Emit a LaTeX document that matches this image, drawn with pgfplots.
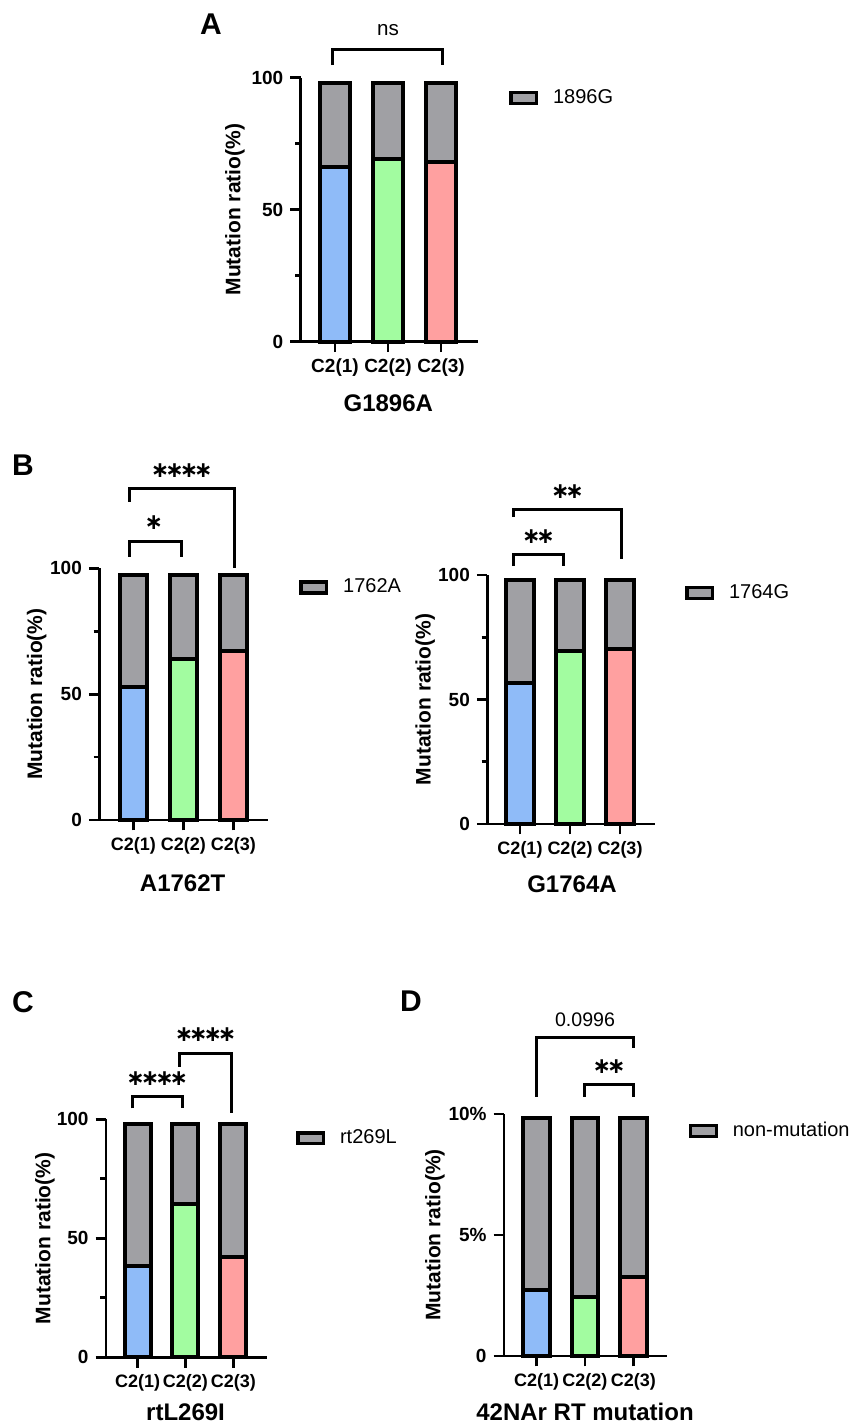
\documentclass[border=0pt]{standalone}
\usepackage{pgfplots}
\pgfplotsset{compat=1.18}
\usepackage{fontspec}
\setmainfont{Liberation Sans}
\newfontfamily\dejavu{DejaVu Sans}
\definecolor{cblue}{RGB}{143,187,248}
\definecolor{cgreen}{RGB}{162,252,160}
\definecolor{cred}{RGB}{255,160,160}
\definecolor{cgray}{RGB}{160,160,164}
\newcommand{\st}{\makebox[7.2pt]{\dejavu\bfseries\fontsize{11}{12}\selectfont ∗}}
\pgfplotsset{
  panel/.style={
    scale only axis, anchor=south west,
    axis lines=left, axis line style={-, line width=1.35pt},
    every tick/.style={black, line width=1.35pt},
    tick align=outside, major tick length=5.2pt, minor tick length=2.8pt,
    xtick={0,1,2}, xticklabels={C2(1),C2(2),C2(3)},
    ybar stacked, ymin=0, clip=false,
    every axis plot/.append style={draw=black, line width=2pt},
    xticklabel style={font=\bfseries\fontsize{9}{10}\selectfont},
    yticklabel style={font=\bfseries\fontsize{9.5}{10}\selectfont},
    ylabel={Mutation ratio(\%)},
    ylabel style={font=\bfseries\fontsize{10.5}{12}\selectfont, anchor=center},
    xlabel style={font=\bfseries\fontsize{12}{14}\selectfont, anchor=center},
    legend style={draw=none, fill=none, inner sep=0pt, anchor=west,
      font=\fontsize{10}{12}\selectfont, nodes={inner sep=0pt}},
    legend cell align=left,
  },
  pct/.style={ymax=100, ytick={0,50,100}, yticklabels={0,50,100}, minor ytick={25,75}},
  limg/.style={legend image code/.code={\draw[fill=cgray,draw=black,line width=1.7pt] (0pt,-2.7pt) rectangle (12.8pt,2.7pt); \path (20pt,0pt);}},
}
\begin{document}
\begin{tikzpicture}
\path[use as bounding box] (0,0) rectangle (427pt,-712.5pt);
% panel letters
\node[font=\bfseries\fontsize{15}{16}\selectfont] at (105.5pt,-12pt) {A};
\node[font=\bfseries\fontsize{15}{16}\selectfont] at (11.5pt,-232.5pt) {B};
\node[font=\bfseries\fontsize{15}{16}\selectfont] at (11.5pt,-501pt) {C};
\node[font=\bfseries\fontsize{15}{16}\selectfont] at (205.5pt,-500.5pt) {D};

% ---------- A ----------
\begin{axis}[panel, pct, at={(150.35pt,-170.85pt)}, width=88.5pt, height=132pt,
  xmin=-0.647, xmax=2.692, bar width=14.6pt,
  xticklabel style={font=\bfseries\fontsize{9.5}{10}\selectfont},
  xlabel={G1896A}, xlabel style={at={(axis description cs:0.495,-0.232)}},
  ylabel style={at={(axis description cs:-0.371,0.5)}},
  legend style={at={(1.177,0.923)}}]
\addlegendimage{limg}\addlegendentry{1896G}
\addplot[fill=cblue]  coordinates {(0,66.3) (1,0) (2,0)};
\addplot[fill=cgreen] coordinates {(0,0) (1,69.1) (2,0)};
\addplot[fill=cred]   coordinates {(0,0) (1,0) (2,68.0)};
\addplot[fill=cgray]  coordinates {(0,31.7) (1,28.9) (2,30.0)};
\draw[line width=1.5pt] (-0.05,104.8) -- (-0.05,110.8) -- (2.02,110.8) -- (2.02,104.8);
\node[font=\fontsize{10.3}{12}\selectfont] at (1,118) {ns};
\end{axis}

% ---------- B left ----------
\begin{axis}[panel, pct, at={(49.65pt,-410pt)}, width=84.35pt, height=125.85pt,
  xmin=-0.68, xmax=2.694, bar width=13.4pt,
  xlabel={A1762T}, xlabel style={at={(axis description cs:0.494,-0.25)}},
  ylabel style={at={(axis description cs:-0.371,0.5)}},
  legend style={at={(1.184,0.924)}}]
\addlegendimage{limg}\addlegendentry{1762A}
\addplot[fill=cblue]  coordinates {(0,53.0) (1,0) (2,0)};
\addplot[fill=cgreen] coordinates {(0,0) (1,64.0) (2,0)};
\addplot[fill=cred]   coordinates {(0,0) (1,0) (2,67.3)};
\addplot[fill=cgray]  coordinates {(0,44.5) (1,33.5) (2,30.2)};
\draw[line width=1.5pt] (-0.08,104.6) -- (-0.08,110.8) -- (0.97,110.8) -- (0.97,104.6);
\draw[line width=1.5pt] (-0.08,126.5) -- (-0.08,131.8) -- (2.03,131.8) -- (2.03,100);
\node at (0.41,118.2) {\st};
\node at (0.97,139) {\st\st\st\st};
\end{axis}

% ---------- B right ----------
\begin{axis}[panel, pct, at={(243.65pt,-412pt)}, width=83.85pt, height=124.5pt,
  xmin=-0.654, xmax=2.7, bar width=13.8pt,
  xlabel={G1764A}, xlabel style={at={(axis description cs:0.505,-0.241)}},
  ylabel style={at={(axis description cs:-0.371,0.5)}},
  legend style={at={(1.179,0.928)}}]
\addlegendimage{limg}\addlegendentry{1764G}
\addplot[fill=cblue]  coordinates {(0,56.5) (1,0) (2,0)};
\addplot[fill=cgreen] coordinates {(0,0) (1,69.5) (2,0)};
\addplot[fill=cred]   coordinates {(0,0) (1,0) (2,70.4)};
\addplot[fill=cgray]  coordinates {(0,41.4) (1,28.4) (2,27.5)};
\draw[line width=1.5pt] (-0.13,103.6) -- (-0.13,108.3) -- (0.87,108.3) -- (0.87,103.6);
\draw[line width=1.5pt] (-0.13,123.2) -- (-0.13,126.4) -- (2.02,126.4) -- (2.02,106.3);
\node at (0.37,115.4) {\st\st};
\node at (0.95,133.5) {\st\st};
\end{axis}

% ---------- C ----------
\begin{axis}[panel, pct, at={(53pt,-678.65pt)}, width=80.35pt, height=119pt,
  xmin=-0.663, xmax=2.699, bar width=13pt,
  xlabel={rtL269I}, xlabel style={at={(axis description cs:0.495,-0.23)}},
  ylabel style={at={(axis description cs:-0.38,0.5)}},
  legend style={at={(1.182,0.92)}}]
\addlegendimage{limg}\addlegendentry{rt269L}
\addplot[fill=cblue]  coordinates {(0,38.4) (1,0) (2,0)};
\addplot[fill=cgreen] coordinates {(0,0) (1,64.4) (2,0)};
\addplot[fill=cred]   coordinates {(0,0) (1,0) (2,42.3)};
\addplot[fill=cgray]  coordinates {(0,59.8) (1,33.8) (2,55.9)};
\draw[line width=1.5pt] (-0.1,104.6) -- (-0.1,109.5) -- (0.94,109.5) -- (0.94,104.6);
\draw[line width=1.5pt] (0.88,122.1) -- (0.88,127.7) -- (1.96,127.7) -- (1.96,102.8);
\node at (0.41,117.2) {\st\st\st\st};
\node at (1.42,135.4) {\st\st\st\st};
\end{axis}

% ---------- D ----------
\begin{axis}[panel, at={(252pt,-678pt)}, width=81.35pt, height=121pt,
  xmin=-0.677, xmax=2.692, bar width=13.4pt,
  ymax=10, ytick={0,5,10}, yticklabels={0,5\%,10\%},
  xlabel={42NAr RT mutation}, xlabel style={at={(axis description cs:0.498,-0.231)}},
  ylabel style={at={(axis description cs:-0.424,0.5)}},
  legend style={at={(1.135,0.929)}}]
\addlegendimage{limg}\addlegendentry{non-mutation}
\addplot[fill=cblue]  coordinates {(0,2.73) (1,0) (2,0)};
\addplot[fill=cgreen] coordinates {(0,0) (1,2.42) (2,0)};
\addplot[fill=cred]   coordinates {(0,0) (1,0) (2,3.25)};
\addplot[fill=cgray]  coordinates {(0,7.12) (1,7.43) (2,6.60)};
\draw[line width=1.5pt] (-0.01,10.71) -- (-0.01,13.15) -- (2.0,13.15) -- (2.0,12.71);
\draw[line width=1.5pt] (1.0,10.71) -- (1.0,11.2) -- (2.0,11.2) -- (2.0,10.71);
\node[font=\fontsize{9.8}{12}\selectfont] at (1.0,13.91) {0.0996};
\node at (1.5,11.95) {\st\st};
\end{axis}
\end{tikzpicture}
\end{document}
